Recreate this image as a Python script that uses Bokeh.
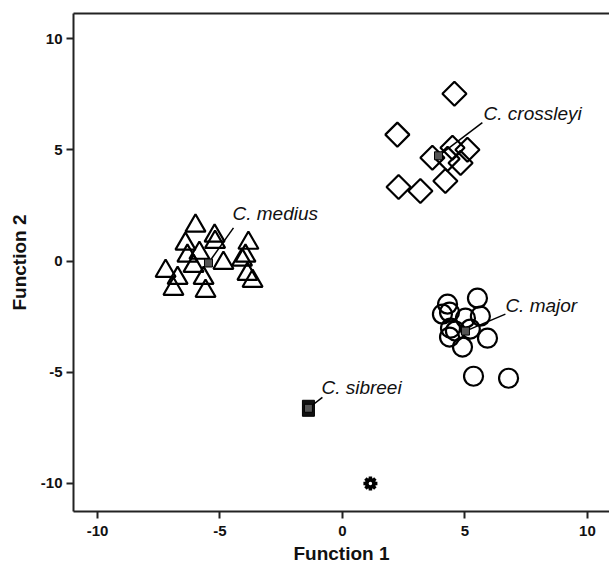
from bokeh.plotting import figure
from bokeh.models import Label, Range1d, FixedTicker, LinearAxis
from bokeh.embed import file_html
from bokeh.resources import INLINE
import math

# ---- data ----
medius_x = [-6.0, -5.22, -5.2, -6.41, -3.84, -5.84, -6.33, -3.96, -4.1, -4.86,
            -6.08, -7.22, -6.73, -5.67, -3.88, -3.67, -6.9, -5.59]
medius_y = [1.58, 1.13, 0.85, 0.77, 0.81, 0.36, 0.23, 0.23, 0.05, -0.09,
            -0.23, -0.45, -0.77, -0.77, -0.59, -0.9, -1.26, -1.35]

crossleyi_x = [4.57, 2.24, 3.67, 4.49, 5.10, 4.29, 4.82, 4.20, 2.29, 3.18]
crossleyi_y = [7.52, 5.68, 4.64, 5.09, 5.00, 4.59, 4.41, 3.60, 3.33, 3.15]

major_x = [5.51, 4.29, 4.08, 4.37, 5.02, 5.63, 4.41, 4.61, 4.37, 4.90, 5.92, 5.35, 6.78, 5.22]
major_y = [-1.67, -1.94, -2.39, -2.30, -2.57, -2.48, -3.02, -3.15, -3.42, -3.87, -3.47, -5.18, -5.27, -3.06]

sibreei_x = [-1.39]
sibreei_y = [-6.62]

ungrouped_x = [1.14]
ungrouped_y = [-10.0]

group_names = ["C. crossleyi", "C. medius", "C. major", "C. sibreei"]
centroid_x = [3.92, -5.47, 5.02, -1.39]
centroid_y = [4.73, -0.09, -3.15, -6.62]
label_x = [5.76, -4.49, 6.65, -0.86]
label_y = [6.62, 2.12, -1.98, -5.68]
leader_x = [5.71, -4.45, 6.65, -0.82]
leader_y = [6.22, 1.49, -2.39, -6.13]

ticks = [-10, -5, 0, 5, 10]
tick_labels = ["-10", "-5", "0", "5", "10"]

x_title = "Function 1"
y_title = "Function 2"

# ---- figure ----
p = figure(width=609, height=568, output_backend="svg", toolbar_location=None,
           x_range=Range1d(-10.98, 10.9), y_range=Range1d(-11.26, 11.126),
           min_border_left=73, min_border_top=13, min_border_right=0, min_border_bottom=57)
p.outline_line_color = None
p.grid.visible = False
p.background_fill_color = "white"

FONT = "Liberation Sans"
AX_COLOR = "#222222"
for ax in (p.xaxis[0], p.yaxis[0]):
    ax.ticker = FixedTicker(ticks=ticks)
    ax.major_label_overrides = {t: s for t, s in zip(ticks, tick_labels)}
    ax.axis_line_width = 2
    ax.axis_line_color = AX_COLOR
    ax.major_tick_line_width = 2
    ax.major_tick_line_color = AX_COLOR
    ax.major_tick_out = 7
    ax.major_tick_in = 0
    ax.minor_tick_out = 0
    ax.minor_tick_in = 0
    ax.major_label_text_font = FONT
    ax.major_label_text_font_style = "bold"
    ax.major_label_text_font_size = "15px"
    ax.major_label_text_color = "#111111"
    ax.axis_label_text_font = FONT
    ax.axis_label_text_font_style = "bold"
    ax.axis_label_text_font_size = "19px"
    ax.axis_label_text_color = "#111111"
p.xaxis[0].axis_label = x_title
p.yaxis[0].axis_label = y_title
p.xaxis[0].major_label_standoff = 7
p.xaxis[0].axis_label_standoff = 4
p.yaxis[0].major_label_standoff = 4
p.yaxis[0].axis_label_standoff = 8

top = LinearAxis(ticker=FixedTicker(ticks=[]), axis_line_width=2, axis_line_color=AX_COLOR,
                 major_label_text_font_size="0px", major_tick_out=0, major_tick_in=0,
                 minor_tick_out=0, minor_tick_in=0, major_label_standoff=0)
p.add_layout(top, "above")

# ---- groups ----
p.scatter(medius_x, medius_y, marker="triangle", size=20, fill_color=None,
          line_color="black", line_width=2.2)
p.scatter(crossleyi_x, crossleyi_y, marker="square", angle=math.pi / 4, size=17,
          fill_color=None, line_color="black", line_width=2.2)
p.scatter(major_x, major_y, marker="circle", size=19, fill_color=None,
          line_color="black", line_width=2.2)
p.rect(sibreei_x, sibreei_y, width=12, height=16, width_units="screen", height_units="screen",
       fill_color="#111111", line_color="black", line_width=1)

# ungrouped case (gear-like star)
p.scatter(ungrouped_x, ungrouped_y, marker="circle", size=10, fill_color="black", line_color="black")
p.scatter(ungrouped_x, ungrouped_y, marker="asterisk", size=14, line_color="black", line_width=3.5)
p.scatter(ungrouped_x, ungrouped_y, marker="circle", size=3.5, fill_color="white", line_color=None)

# leader lines and centroids
p.segment(x0=centroid_x, y0=centroid_y, x1=leader_x, y1=leader_y, line_color="black", line_width=1.5)
p.scatter(centroid_x, centroid_y, marker="square", size=8, fill_color="#555555",
          line_color="black", line_width=1)

for name, lx, ly in zip(group_names, label_x, label_y):
    p.add_layout(Label(x=lx, y=ly, text=name, text_font=FONT, text_font_style="italic",
                       text_font_size="19px", text_baseline="middle", text_align="left",
                       text_color="#111111"))

open("out.html", "w").write(file_html(p, INLINE))
